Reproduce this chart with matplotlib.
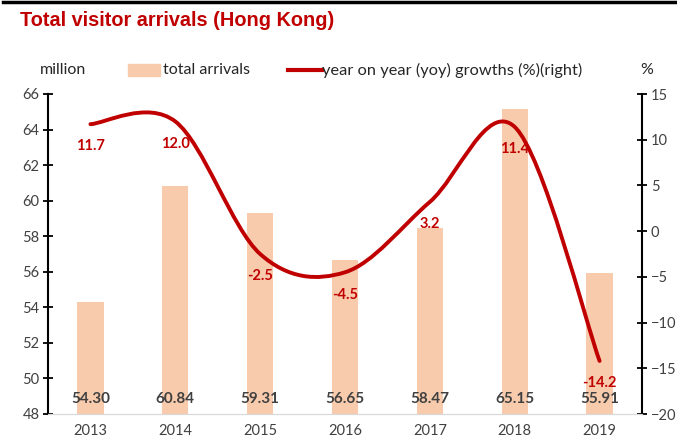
import numpy as np
import matplotlib.pyplot as plt
from matplotlib.path import Path
from matplotlib.patches import PathPatch, Rectangle
from matplotlib.lines import Line2D

# Hong Kong visitor arrivals, million, and yoy growth in %
years = ["2013", "2014", "2015", "2016", "2017", "2018", "2019"]
arrivals = [54.30, 60.84, 59.31, 56.65, 58.47, 65.15, 55.91]
growth = [11.7, 12.0, -2.5, -4.5, 3.2, 11.4, -14.2]

BAR_COLOR = "#F8CBAD"
LINE_COLOR = "#C00000"
TEXT_COLOR = "#404040"

plt.rcParams["font.family"] = ["Lato", "DejaVu Sans"]

fig = plt.figure(figsize=(6.77, 4.41), dpi=100)
ax = fig.add_axes([48 / 677, 1 - 414 / 441, 594 / 677, 320 / 441])
ax2 = ax.twinx()

x = np.arange(len(years))
ax.bar(x, arrivals, width=0.31, color=BAR_COLOR, zorder=1)
ax.set_xlim(-0.5, len(years) - 0.5)
ax.set_ylim(48, 66)
ax.set_yticks(range(48, 67, 2))
ax.set_xticks(x)
ax.set_xticklabels(years)

for xi, v in zip(x, arrivals):
    ax.annotate(f"{v:.2f}", (xi, 48), xytext=(0, 6), textcoords="offset points",
                ha="center", va="bottom", fontsize=11, fontweight="bold",
                color=TEXT_COLOR)

# smoothed yoy line (Catmull-Rom segments as cubic Bezier)
pts = np.column_stack([x, growth]).astype(float)
ext = np.vstack([pts[0], pts, pts[-1]])
verts = [tuple(pts[0])]
codes = [Path.MOVETO]
for i in range(len(pts) - 1):
    p0, p1, p2, p3 = ext[i], ext[i + 1], ext[i + 2], ext[i + 3]
    c1 = p1 + (p2 - p0) / 6
    c2 = p2 - (p3 - p1) / 6
    verts += [tuple(c1), tuple(c2), tuple(p2)]
    codes += [Path.CURVE4] * 3
ax2.add_patch(PathPatch(Path(verts, codes), facecolor="none",
                        edgecolor=LINE_COLOR, lw=2.8, capstyle="round", zorder=3))
ax2.set_ylim(-20, 15)
ax2.set_yticks(range(-20, 16, 5))

for xi, g in zip(x, growth):
    ax2.annotate(f"{g:.1f}", (xi, g), xytext=(0, -16), textcoords="offset points",
                 ha="center", va="center", fontsize=10.5, fontweight="bold",
                 color=LINE_COLOR)

for a in (ax, ax2):
    a.spines["top"].set_visible(False)
    a.spines["bottom"].set_color("#D9D9D9")
    a.spines["left"].set_linewidth(1.5)
    a.spines["right"].set_linewidth(1.5)
    a.tick_params(axis="y", direction="inout", length=6.5, width=1.3,
                  labelsize=10.5, labelcolor=TEXT_COLOR, pad=3)
ax.spines["right"].set_visible(False)
ax2.spines["left"].set_visible(False)
ax.tick_params(axis="x", length=0, labelsize=10.5, labelcolor=TEXT_COLOR, pad=7)

# heading and top rule
fig.add_artist(Line2D([3 / 677, 675 / 677], [1 - 1.5 / 441, 1 - 1.5 / 441],
                      color="black", lw=2.5))
fig.text(20 / 677, 1 - 21 / 441, "Total visitor arrivals (Hong Kong)",
         family="Liberation Sans", fontsize=14.3, fontweight="bold",
         color=LINE_COLOR, va="center")

# legend row
ly = 1 - 70 / 441
fig.text(40 / 677, ly, "million", fontsize=11.5, color="#262626", va="center")
fig.add_artist(Rectangle((128 / 677, 1 - 76 / 441), 32 / 677, 12 / 441,
                         color=BAR_COLOR, transform=fig.transFigure))
fig.text(163 / 677, ly, "total arrivals", fontsize=11.5, color="#262626", va="center")
fig.add_artist(Line2D([288 / 677, 322 / 677], [ly, ly], color=LINE_COLOR, lw=3))
fig.text(322 / 677, ly, "year on year (yoy) growths (%)(right)", fontsize=11.8,
         color="#262626", va="center")
fig.text(640 / 677, ly, "%", fontsize=11.5, color="#262626", va="center")

fig.savefig("out.png", dpi=100)
